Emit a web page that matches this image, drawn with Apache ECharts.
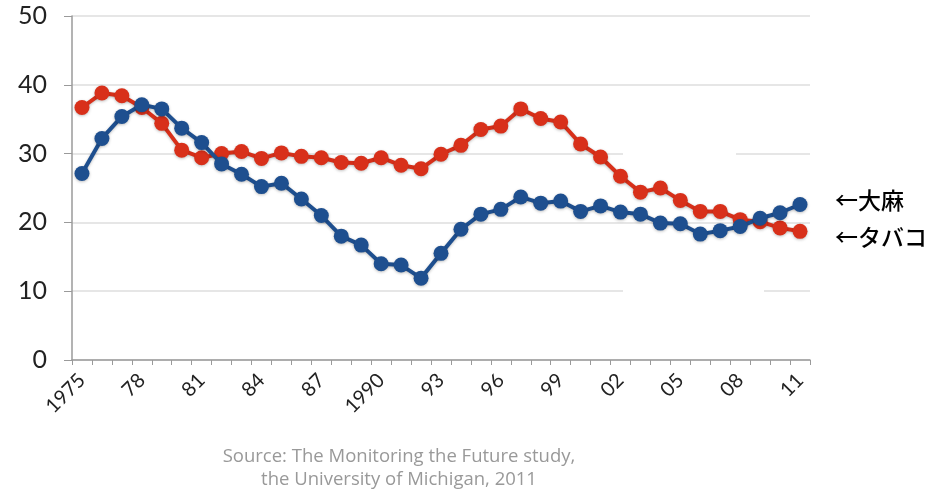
<!DOCTYPE html>
<html>
<head>
<meta charset="utf-8">
<script src="https://cdn.jsdelivr.net/npm/echarts@6/dist/echarts.min.js"></script>
<style>
  html, body { margin: 0; padding: 0; background: #fff; }
  #chart { width: 933px; height: 492px; }
</style>
</head>
<body>
<div id="chart"></div>
<script>
// Survey years, 1975–2011
const years = ['1975','1976','1977','1978','1979','1980','1981','1982','1983','1984',
  '1985','1986','1987','1988','1989','1990','1991','1992','1993','1994',
  '1995','1996','1997','1998','1999','2000','2001','2002','2003','2004',
  '2005','2006','2007','2008','2009','2010','2011'];

// Labels shown on the x axis (every third year)
const tickLabels = {
  '1975': '1975', '1978': '78', '1981': '81', '1984': '84', '1987': '87',
  '1990': '1990', '1993': '93', '1996': '96', '1999': '99', '2002': '02',
  '2005': '05', '2008': '08', '2011': '11'
};

// Past-30-day use among 12th graders (%)
const marijuana = [27.1, 32.2, 35.4, 37.1, 36.5, 33.7, 31.6, 28.5, 27.0, 25.2,
  25.7, 23.4, 21.0, 18.0, 16.7, 14.0, 13.8, 11.9, 15.5, 19.0,
  21.2, 21.9, 23.7, 22.8, 23.1, 21.6, 22.4, 21.5, 21.2, 19.9,
  19.8, 18.3, 18.8, 19.4, 20.6, 21.4, 22.6];

const tobacco = [36.7, 38.8, 38.4, 36.7, 34.4, 30.5, 29.4, 30.0, 30.3, 29.3,
  30.1, 29.6, 29.4, 28.7, 28.6, 29.4, 28.3, 27.8, 29.9, 31.2,
  33.5, 34.0, 36.5, 35.1, 34.6, 31.4, 29.5, 26.7, 24.4, 25.0,
  23.2, 21.6, 21.6, 20.4, 20.1, 19.2, 18.7];

const yTicks = [0, 10, 20, 30, 40, 50];

const RED = '#d8301a';
const BLUE = '#1e4f8f';

const chart = echarts.init(document.getElementById('chart'));

function seriesOf(name, data, color, z) {
  return {
    name: name,
    type: 'line',
    data: data,
    z: z,
    symbol: 'circle',
    symbolSize: 15,
    showSymbol: true,
    showAllSymbol: true,
    lineStyle: { color: color, width: 4, shadowColor: 'rgba(0,0,0,0.25)', shadowBlur: 3, shadowOffsetY: 1 },
    itemStyle: { color: color, shadowColor: 'rgba(0,0,0,0.25)', shadowBlur: 3, shadowOffsetY: 1 },
    animation: false
  };
}

chart.setOption({
  backgroundColor: '#ffffff',
  animation: false,
  grid: { left: 72, right: 123, top: 16, bottom: 132, containLabel: false },
  xAxis: {
    type: 'category',
    data: years,
    boundaryGap: true,
    axisLine: { lineStyle: { color: '#9a9a9a', width: 1.5 } },
    axisTick: { show: true, interval: 0, length: 5, lineStyle: { color: '#9a9a9a' } },
    axisLabel: {
      interval: 2,
      rotate: 45,
      margin: 17,
      color: '#222',
      fontFamily: 'Lato, "Open Sans", sans-serif',
      fontSize: 20,
      formatter: function (v) { return tickLabels[v] || ''; }
    },
    splitLine: { show: false }
  },
  yAxis: {
    type: 'value',
    min: yTicks[0],
    max: yTicks[yTicks.length - 1],
    interval: 10,
    axisLine: { show: true, lineStyle: { color: '#9a9a9a', width: 1.5 } },
    axisTick: { show: true, length: 8, lineStyle: { color: '#9a9a9a' } },
    axisLabel: {
      margin: 25,
      color: '#222',
      fontFamily: 'Lato, "Open Sans", sans-serif',
      fontSize: 25
    },
    splitLine: { show: true, lineStyle: { color: '#dedede', width: 1.5 } }
  },
  series: [
    seriesOf('タバコ', tobacco, RED, 2),
    seriesOf('大麻', marijuana, BLUE, 3)
  ],
  graphic: [
    { type: 'rect', shape: { x: 623, y: 130, width: 113, height: 47 }, style: { fill: '#ffffff' }, z: 1 },
    { type: 'rect', shape: { x: 623, y: 269, width: 141, height: 48 }, style: { fill: '#ffffff' }, z: 1 },
    { type: 'text', left: 835, top: 189, z: 100,
      style: { text: '←大麻', fill: '#000', font: '500 23px "Noto Sans CJK JP", sans-serif' } },
    { type: 'text', left: 835, top: 226, z: 100,
      style: { text: '←タバコ', fill: '#000', font: '500 23px "Noto Sans CJK JP", sans-serif' } },
    { type: 'text', z: 100, x: 399, y: 445,
      style: { text: 'Source: The Monitoring the Future study,\nthe University of Michigan, 2011',
        fill: '#999', align: 'center', lineHeight: 23,
        font: '18.5px "Open Sans", Lato, sans-serif' } }
  ]
});
</script>
</body>
</html>
